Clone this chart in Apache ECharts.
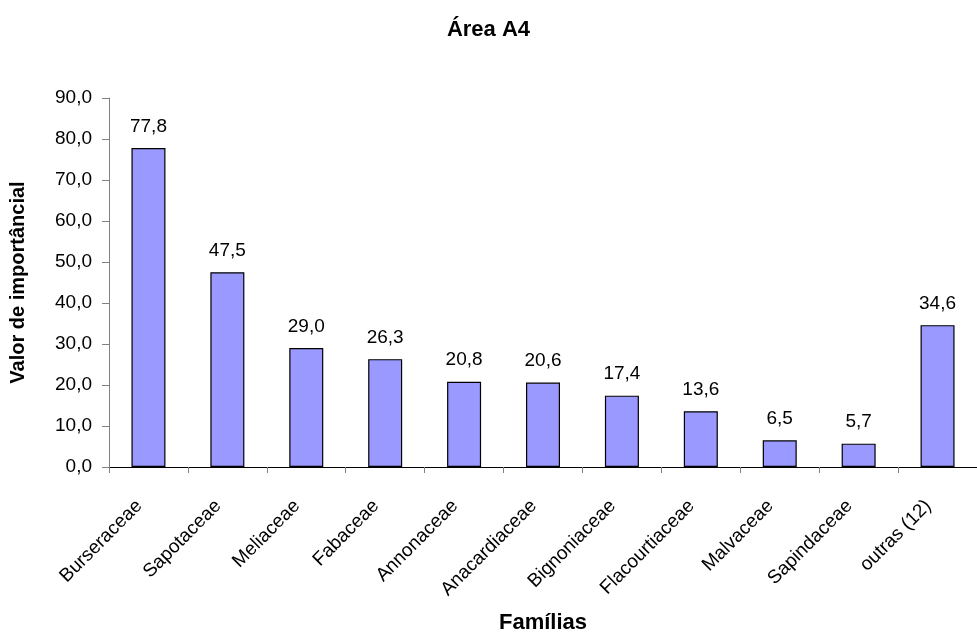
<!DOCTYPE html>
<html>
<head>
<meta charset="utf-8">
<script src="https://cdn.jsdelivr.net/npm/echarts@6/dist/echarts.min.js"></script>
<style>
html,body{margin:0;padding:0;background:#fff;}
#chart{width:977px;height:639px;}
</style>
</head>
<body>
<div id="chart"></div>
<script>
// Famílias e valores de importância (Área A4)
const familias = ['Burseraceae','Sapotaceae','Meliaceae','Fabaceae','Annonaceae','Anacardiaceae','Bignoniaceae','Flacourtiaceae','Malvaceae','Sapindaceae','outras (12)'];
const valores = [77.8, 47.5, 29.0, 26.3, 20.8, 20.6, 17.4, 13.6, 6.5, 5.7, 34.6];

const fmt = v => Number(v).toFixed(1).replace('.', ',');
const FONT = '"Liberation Sans", Arial, sans-serif';

const chart = echarts.init(document.getElementById('chart'), null, {renderer: 'canvas'});
chart.setOption({
  animation: false,
  textStyle: {fontFamily: FONT},
  title: {
    text: 'Área A4',
    left: 'center',
    top: 14,
    textStyle: {fontFamily: FONT, fontSize: 22, fontWeight: 'bold', color: '#000'}
  },
  grid: {left: 107, right: -7, top: 98, bottom: 169, containLabel: false},
  xAxis: {
    type: 'category',
    data: familias,
    name: 'Famílias',
    nameLocation: 'middle',
    nameGap: 145,
    nameTextStyle: {fontFamily: FONT, fontSize: 22, fontWeight: 'bold', color: '#000'},
    axisLine: {lineStyle: {color: '#000', width: 1}},
    axisTick: {show: true, alignWithLabel: false, length: 6, lineStyle: {color: '#808080'}},
    axisLabel: {rotate: 45, fontSize: 19, color: '#000', margin: 27, padding: [0, 13, 0, 0], fontFamily: FONT, interval: 0}
  },
  yAxis: {
    type: 'value',
    min: 0,
    max: 90,
    interval: 10,
    name: 'Valor de importâncial',
    nameLocation: 'middle',
    nameGap: 81,
    nameRotate: 90,
    nameTextStyle: {fontFamily: FONT, fontSize: 20, fontWeight: 'bold', color: '#000'},
    axisLine: {show: true, lineStyle: {color: '#808080', width: 1}},
    axisTick: {show: true, length: 7, lineStyle: {color: '#808080'}},
    axisLabel: {formatter: fmt, fontSize: 19, color: '#000', margin: 17, fontFamily: FONT},
    splitLine: {show: false}
  },
  series: [{
    type: 'bar',
    data: valores,
    barWidth: 34,
    itemStyle: {color: '#9999FF', borderColor: '#000', borderWidth: 1.2},
    label: {
      show: true,
      position: 'top',
      distance: 12,
      formatter: p => fmt(p.value),
      fontSize: 19,
      color: '#000',
      fontFamily: FONT
    }
  }]
});
</script>
</body>
</html>
